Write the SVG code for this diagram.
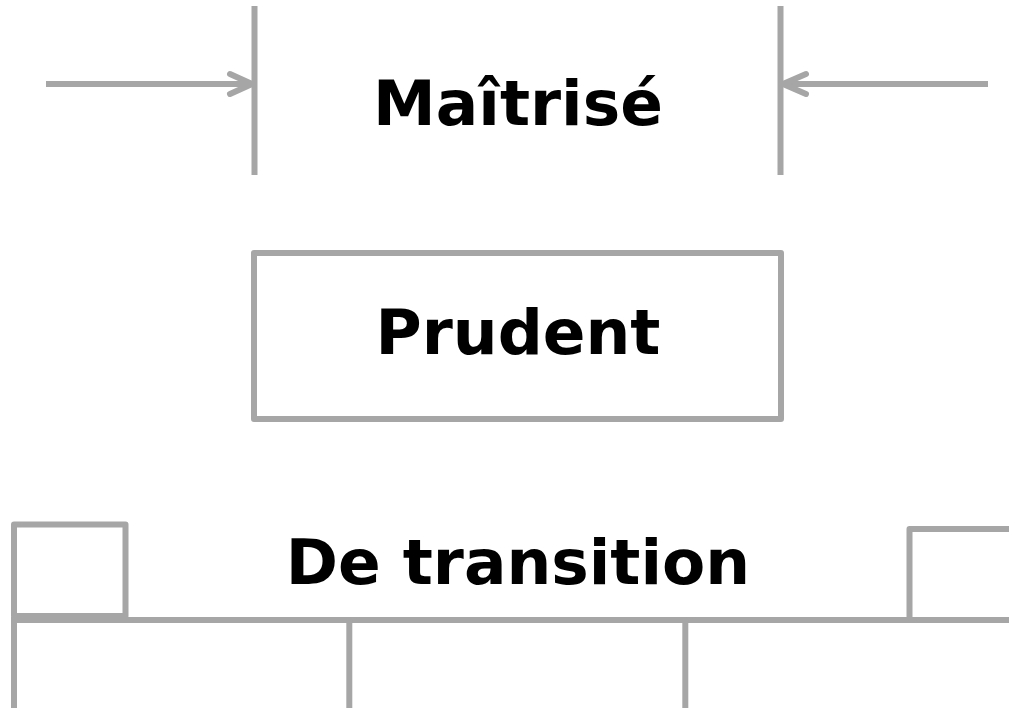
<svg xmlns="http://www.w3.org/2000/svg" width="1009" height="708" viewBox="0 0 1009 708">
<defs>
<style>
.ln{stroke:#a6a6a6;stroke-width:6;fill:none}
.rd{stroke-linecap:round;stroke-linejoin:round}
.lb{font-family:"DejaVu Sans",Verdana,sans-serif;font-weight:bold;font-size:63px;fill:#000;text-anchor:middle}
</style>
</defs>
<rect width="1009" height="708" fill="#fff"/>
<g id="connectors">
<line class="ln" x1="46" y1="84" x2="252" y2="84"/>
<polyline class="ln rd" points="230,74 252,84 230,94"/>
<line class="ln" x1="988" y1="84" x2="783" y2="84"/>
<polyline class="ln rd" points="806,74 783,84 806,94"/>
</g>
<g id="maitrise">
<line class="ln" x1="254.5" y1="6" x2="254.5" y2="175"/>
<line class="ln" x1="780.5" y1="6" x2="780.5" y2="175"/>
<text class="lb" x="518" y="125">Maîtrisé</text>
</g>
<g id="prudent">
<rect class="ln rd" x="254" y="253" width="527" height="166"/>
<text class="lb" x="518" y="354">Prudent</text>
</g>
<g id="transition">
<polyline class="ln rd" points="14,616 14,524.5 125.5,524.5 125.5,616"/>
<line class="ln" x1="14" y1="616" x2="125.5" y2="616"/>
<polyline class="ln rd" points="909.5,620 909.5,529 1012,529"/>
<line class="ln" x1="11" y1="620" x2="1012" y2="620"/>
<line class="ln" x1="14" y1="617" x2="14" y2="712"/>
<line class="ln" x1="349.3" y1="620" x2="349.3" y2="712"/>
<line class="ln" x1="685.3" y1="620" x2="685.3" y2="712"/>
<text class="lb" x="518" y="584">De transition</text>
</g>
</svg>
